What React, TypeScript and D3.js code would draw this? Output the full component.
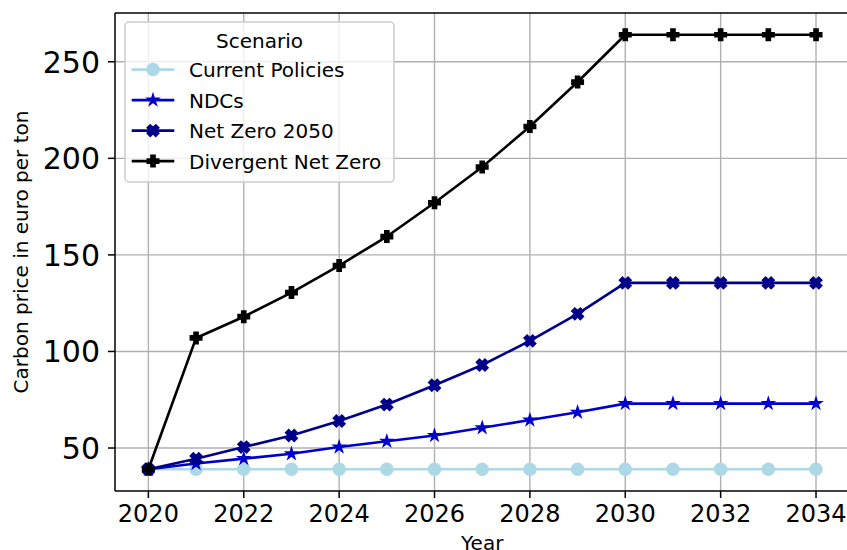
import React from "react";
import * as d3 from "d3";

const years = [2020, 2021, 2022, 2023, 2024, 2025, 2026, 2027, 2028, 2029, 2030, 2031, 2032, 2033, 2034];
const currentPolicies = [39, 39, 39, 39, 39, 39, 39, 39, 39, 39, 39, 39, 39, 39, 39];
const ndcs = [39, 42, 44.5, 47, 50.5, 53.5, 56.5, 60.5, 64.5, 68.5, 73, 73, 73, 73, 73];
const netZero2050 = [39, 44.5, 50.5, 56.5, 64, 72.5, 82.5, 93, 105.5, 119.5, 135.5, 135.5, 135.5, 135.5, 135.5];
const divergentNetZero = [39, 107, 118, 130.5, 144.5, 159.5, 177, 195.5, 216.5, 239.5, 264, 264, 264, 264, 264];
const xTicks = [2020, 2022, 2024, 2026, 2028, 2030, 2032, 2034];
const yTicks = [50, 100, 150, 200, 250];
const seriesNames = ["Current Policies", "NDCs", "Net Zero 2050", "Divergent Net Zero"];

type Marker = "o" | "*" | "X" | "P";
const series: { name: string; values: number[]; color: string; marker: Marker; size: number }[] = [
  { name: seriesNames[0], values: currentPolicies, color: "#add8e6", marker: "o", size: 11.5 },
  { name: seriesNames[1], values: ndcs, color: "#0000cd", marker: "*", size: 10 },
  { name: seriesNames[2], values: netZero2050, color: "#00008b", marker: "X", size: 11 },
  { name: seriesNames[3], values: divergentNetZero, color: "#000000", marker: "P", size: 11 },
];

const W = 847;
const H = 550;
const left = 115;
const top = 13;
const bottom = 491;
const right = 849.4;
const FONT = "DejaVu Sans, sans-serif";
const LW = 2.6;

function markerPath(m: Marker, cx: number, cy: number, s: number): string {
  const p = d3.path();
  if (m === "o") {
    p.arc(cx, cy, s / 2, 0, Math.PI * 2);
    p.closePath();
    return p.toString();
  }
  let pts: [number, number][] = [];
  if (m === "*") {
    const R = s / 2;
    const r = R * 0.381966;
    for (let i = 0; i < 10; i++) {
      const a = -Math.PI / 2 + (i * Math.PI) / 5;
      const rr = i % 2 === 0 ? R : r;
      pts.push([cx + rr * Math.cos(a), cy + rr * Math.sin(a)]);
    }
  } else if (m === "X") {
    const base: [number, number][] = [
      [0.25, 0], [0.5, 0.25], [0.25, 0.5], [0, 0.25], [-0.25, 0.5], [-0.5, 0.25],
      [-0.25, 0], [-0.5, -0.25], [-0.25, -0.5], [0, -0.25], [0.25, -0.5], [0.5, -0.25],
    ];
    pts = base.map(([u, v]) => [cx + u * s, cy + v * s]);
  } else {
    const base: [number, number][] = [
      [-1, -3], [-1, -1], [-3, -1], [-3, 1], [-1, 1], [-1, 3],
      [1, 3], [1, 1], [3, 1], [3, -1], [1, -1], [1, -3],
    ];
    const k = s / 6;
    pts = base.map(([u, v]) => [cx + u * k, cy + v * k]);
  }
  pts.forEach(([x, y], i) => (i === 0 ? p.moveTo(x, y) : p.lineTo(x, y)));
  p.closePath();
  return p.toString();
}

export default function App() {
  const allVals = series.flatMap((s) => s.values);
  const [ymin, ymax] = d3.extent(allVals) as [number, number];
  const yPad = (ymax - ymin) * 0.05;
  const [xmin, xmax] = d3.extent(years) as [number, number];
  const xPad = (xmax - xmin) * 0.05;
  const x = d3.scaleLinear().domain([xmin - xPad, xmax + xPad]).range([left, right]);
  const y = d3.scaleLinear().domain([ymin - yPad, ymax + yPad]).range([bottom, top]);
  const line = d3
    .line<number>()
    .x((_, i) => x(years[i]))
    .y((d) => y(d));

  const legendBaselines = [77.3, 107.8, 138.3, 168.8];

  return (
    <svg width={W} height={H} style={{ position: "absolute", left: 0, top: 0 }} fontFamily={FONT}>
      <defs>
        <clipPath id="clip">
          <rect x={left} y={top} width={right - left} height={bottom - top} />
        </clipPath>
      </defs>
      <rect x={0} y={0} width={W} height={H} fill="#ffffff" />
      <g clipPath="url(#clip)">
        {xTicks.map((t) => (
          <line key={"gx" + t} x1={x(t)} x2={x(t)} y1={top} y2={bottom} stroke="#b0b0b0" strokeWidth={1.4} />
        ))}
        {yTicks.map((t) => (
          <line key={"gy" + t} x1={left} x2={right} y1={y(t)} y2={y(t)} stroke="#b0b0b0" strokeWidth={1.4} />
        ))}
        {series.map((s) => (
          <g key={s.name}>
            <path d={line(s.values) || ""} fill="none" stroke={s.color} strokeWidth={LW} strokeLinejoin="round" />
            {s.values.map((v, i) => (
              <path
                key={i}
                d={markerPath(s.marker, x(years[i]), y(v), s.size)}
                fill={s.color}
                stroke={s.color}
                strokeWidth={2}
                strokeLinejoin="miter"
              />
            ))}
          </g>
        ))}
      </g>
      {/* spines */}
      <line x1={left} x2={left} y1={top} y2={bottom} stroke="#000" strokeWidth={1.5} />
      <line x1={left} x2={right} y1={bottom} y2={bottom} stroke="#000" strokeWidth={1.5} />
      <line x1={left} x2={right} y1={top} y2={top} stroke="#000" strokeWidth={1.5} />
      <line x1={right} x2={right} y1={top} y2={bottom} stroke="#000" strokeWidth={1.5} />
      {/* x ticks */}
      {xTicks.map((t) => (
        <g key={"xt" + t}>
          <line x1={x(t)} x2={x(t)} y1={bottom} y2={bottom + 7} stroke="#000" strokeWidth={1.5} />
          <text x={x(t)} y={521.5} fontSize={24} textAnchor="middle" fill="#000">
            {t}
          </text>
        </g>
      ))}
      {/* y ticks */}
      {yTicks.map((t) => (
        <g key={"yt" + t}>
          <line x1={left - 7} x2={left} y1={y(t)} y2={y(t)} stroke="#000" strokeWidth={1.5} />
          <text x={100} y={y(t)} dy="0.36em" fontSize={30} textAnchor="end" fill="#000">
            {t}
          </text>
        </g>
      ))}
      <text x={(left + right) / 2} y={550} fontSize={20} textAnchor="middle" fill="#000">
        Year
      </text>
      <text
        transform={`translate(28, ${(top + bottom) / 2}) rotate(-90)`}
        fontSize={20}
        textAnchor="middle"
        fill="#000"
      >
        Carbon price in euro per ton
      </text>
      {/* legend */}
      <rect x={125} y={22} width={269} height={160} rx={4} fill="#ffffff" fillOpacity={0.8} stroke="#cccccc" strokeWidth={1.5} />
      <text x={259.5} y={48} fontSize={20} textAnchor="middle" fill="#000">
        Scenario
      </text>
      {series.map((s, i) => {
        const cy = legendBaselines[i] - 7.7;
        return (
          <g key={"lg" + s.name}>
            <line x1={131.7} x2={174.3} y1={cy} y2={cy} stroke={s.color} strokeWidth={LW} />
            <path d={markerPath(s.marker, 153, cy, s.size)} fill={s.color} stroke={s.color} strokeWidth={2} />
            <text x={189} y={legendBaselines[i]} fontSize={20} fill="#000">
              {s.name}
            </text>
          </g>
        );
      })}
    </svg>
  );
}
